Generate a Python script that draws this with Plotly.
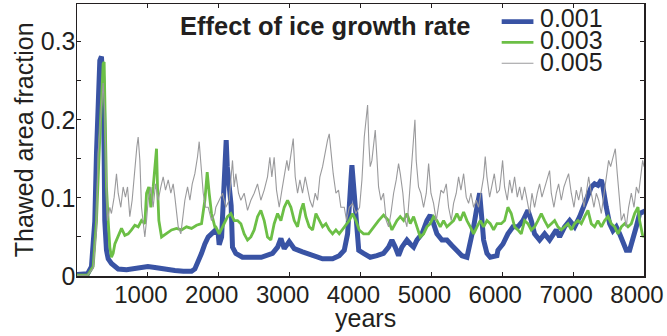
import plotly.graph_objects as go

# ---------------- data ----------------
years_001 = [0, 100, 150, 204, 251, 275, 298, 322, 345, 369, 383, 392, 416, 440, 486, 581, 700, 800, 910, 1000,
             1100, 1200, 1381, 1500, 1616, 1663, 1710, 1757, 1804, 1851, 1898, 1945, 1992, 2006, 2040, 2070, 2090,
             2105, 2120, 2140, 2160, 2175, 2194, 2241, 2335, 2430, 2600, 2759, 2830, 2877, 2924, 2994, 3065, 3182,
             3324, 3465, 3606, 3700, 3771, 3818, 3865, 3879, 3912, 3940, 3959, 3975, 4043, 4137, 4231, 4325, 4396,
             4443, 4490, 4537, 4584, 4655, 4702, 4749, 4796, 4867, 4937, 4984, 5031, 5078, 5149, 5219, 5290, 5360,
             5431, 5502, 5549, 5596, 5643, 5681, 5714, 5737, 5784, 5831, 5925, 5939, 6010, 6080, 6151, 6221, 6292,
             6362, 6409, 6456, 6527, 6598, 6668, 6715, 6762, 6809, 6880, 6951, 7021, 7092, 7139, 7186, 7256, 7303,
             7350, 7398, 7421, 7468, 7515, 7562, 7609, 7656, 7703, 7750, 7797, 7844, 7891, 7938, 7985, 8000]
frac_001 = [0.002, 0.002, 0.003, 0.012, 0.070, 0.157, 0.242, 0.276, 0.281, 0.242, 0.157, 0.071, 0.033, 0.022,
            0.016, 0.009, 0.008, 0.009, 0.011, 0.012, 0.011, 0.009, 0.007, 0.006, 0.006, 0.009, 0.018, 0.029,
            0.041, 0.050, 0.054, 0.058, 0.054, 0.040, 0.050, 0.100, 0.160, 0.174, 0.140, 0.115, 0.105, 0.090,
            0.037, 0.029, 0.024, 0.024, 0.024, 0.029, 0.037, 0.048, 0.035, 0.044, 0.035, 0.031, 0.026, 0.022,
            0.022, 0.026, 0.033, 0.054, 0.123, 0.142, 0.105, 0.063, 0.045, 0.033, 0.029, 0.024, 0.026, 0.029,
            0.037, 0.046, 0.037, 0.026, 0.037, 0.046, 0.041, 0.037, 0.046, 0.054, 0.071, 0.078, 0.067, 0.054,
            0.046, 0.046, 0.039, 0.033, 0.026, 0.024, 0.041, 0.063, 0.088, 0.106, 0.071, 0.046, 0.029, 0.024,
            0.026, 0.033, 0.041, 0.054, 0.063, 0.063, 0.071, 0.084, 0.071, 0.054, 0.046, 0.054, 0.046, 0.054,
            0.059, 0.050, 0.063, 0.071, 0.063, 0.076, 0.088, 0.097, 0.114, 0.118, 0.116, 0.123, 0.114, 0.088,
            0.067, 0.058, 0.063, 0.054, 0.041, 0.033, 0.033, 0.046, 0.063, 0.080, 0.082, 0.080]

years_003 = [0, 150, 228, 275, 322, 369, 383, 402, 416, 440, 463, 486, 510, 534, 581, 628, 675, 722, 769, 816, 863,
             910, 957, 981, 1013, 1042, 1075, 1098, 1122, 1136, 1155, 1193, 1263, 1334, 1404, 1475, 1545, 1616, 1687,
             1757, 1804, 1837, 1865, 1898, 1945, 1959, 2006, 2053, 2124, 2171, 2218, 2265, 2312, 2359, 2406, 2453,
             2500, 2547, 2594, 2641, 2688, 2735, 2782, 2830, 2877, 2924, 2971, 3018, 3065, 3112, 3159, 3192, 3229,
             3276, 3324, 3371, 3418, 3465, 3512, 3559, 3606, 3653, 3700, 3771, 3841, 3888, 3935, 3982, 4043, 4114,
             4184, 4255, 4325, 4396, 4443, 4514, 4561, 4608, 4655, 4702, 4749, 4796, 4843, 4890, 4937, 4984, 5031,
             5078, 5125, 5172, 5219, 5266, 5313, 5360, 5407, 5455, 5502, 5549, 5596, 5643, 5690, 5737, 5784, 5831,
             5878, 5925, 5986, 6033, 6080, 6127, 6174, 6221, 6268, 6315, 6362, 6409, 6456, 6503, 6551, 6598, 6645,
             6692, 6739, 6786, 6833, 6880, 6927, 6974, 7021, 7068, 7115, 7162, 7209, 7256, 7303, 7350, 7398, 7445,
             7492, 7539, 7586, 7633, 7680, 7727, 7774, 7821, 7868, 7915, 7938, 7985, 8000]
frac_003 = [0.001, 0.001, 0.012, 0.071, 0.178, 0.272, 0.274, 0.200, 0.114, 0.071, 0.037, 0.024, 0.029, 0.041,
            0.050, 0.061, 0.052, 0.054, 0.059, 0.065, 0.063, 0.071, 0.067, 0.106, 0.114, 0.088, 0.114, 0.140,
            0.163, 0.114, 0.071, 0.050, 0.054, 0.059, 0.061, 0.059, 0.063, 0.061, 0.065, 0.067, 0.097, 0.133,
            0.106, 0.080, 0.063, 0.063, 0.054, 0.063, 0.076, 0.080, 0.071, 0.071, 0.067, 0.054, 0.046, 0.050,
            0.059, 0.076, 0.084, 0.071, 0.050, 0.046, 0.067, 0.080, 0.071, 0.088, 0.097, 0.088, 0.071, 0.063,
            0.084, 0.093, 0.076, 0.063, 0.059, 0.080, 0.071, 0.063, 0.067, 0.059, 0.054, 0.059, 0.054, 0.063,
            0.071, 0.080, 0.071, 0.059, 0.054, 0.054, 0.063, 0.071, 0.078, 0.071, 0.059, 0.071, 0.076, 0.071,
            0.080, 0.067, 0.076, 0.063, 0.050, 0.054, 0.063, 0.067, 0.076, 0.071, 0.063, 0.071, 0.063, 0.067,
            0.071, 0.080, 0.071, 0.082, 0.071, 0.063, 0.054, 0.063, 0.071, 0.063, 0.071, 0.067, 0.059, 0.067,
            0.067, 0.071, 0.088, 0.080, 0.063, 0.059, 0.054, 0.071, 0.067, 0.059, 0.063, 0.071, 0.080, 0.071,
            0.063, 0.067, 0.071, 0.063, 0.059, 0.063, 0.067, 0.059, 0.067, 0.071, 0.067, 0.076, 0.084, 0.067,
            0.063, 0.071, 0.063, 0.071, 0.076, 0.067, 0.063, 0.054, 0.063, 0.067, 0.063, 0.067, 0.080, 0.088,
            0.071, 0.050, 0.052]

years_005 = [0, 150, 230, 275, 298, 345, 369, 392, 416, 430, 463, 486, 524, 557, 581, 618, 651, 684, 713, 745, 778,
             816, 844, 863, 887, 910, 934, 957, 981, 1004, 1042, 1075, 1108, 1146, 1183, 1216, 1249, 1287, 1324,
             1357, 1381, 1404, 1428, 1465, 1499, 1522, 1560, 1593, 1626, 1663, 1701, 1724, 1748, 1781, 1814, 1851,
             1898, 1945, 1959, 2006, 2053, 2100, 2147, 2194, 2218, 2241, 2279, 2312, 2359, 2406, 2453, 2500, 2547,
             2594, 2641, 2688, 2721, 2749, 2782, 2815, 2853, 2891, 2924, 2961, 2985, 3018, 3051, 3079, 3112, 3145,
             3182, 3220, 3253, 3286, 3324, 3361, 3394, 3427, 3465, 3502, 3535, 3559, 3582, 3615, 3653, 3690, 3723,
             3771, 3803, 3841, 3888, 3935, 3987, 4020, 4053, 4081, 4100, 4118, 4137, 4161, 4184, 4208, 4231, 4255,
             4288, 4325, 4363, 4396, 4429, 4467, 4504, 4537, 4561, 4598, 4631, 4655, 4692, 4725, 4749, 4768, 4786,
             4819, 4852, 4890, 4928, 4961, 4994, 5031, 5069, 5102, 5135, 5172, 5210, 5243, 5281, 5313, 5351, 5384,
             5417, 5455, 5492, 5525, 5558, 5596, 5633, 5666, 5699, 5737, 5760, 5784, 5822, 5855, 5888, 5925, 5960,
             5977, 6005, 6033, 6071, 6104, 6137, 6174, 6212, 6245, 6278, 6315, 6353, 6386, 6419, 6456, 6494, 6527,
             6560, 6598, 6635, 6668, 6692, 6729, 6762, 6795, 6833, 6870, 6904, 6936, 6974, 7012, 7045, 7078, 7115,
             7153, 7186, 7219, 7256, 7294, 7327, 7360, 7398, 7435, 7468, 7501, 7529, 7562, 7595, 7623, 7652, 7680,
             7718, 7750, 7783, 7821, 7859, 7892, 7925, 7953, 7981, 8000]
frac_005 = [0.001, 0.001, 0.010, 0.060, 0.157, 0.221, 0.247, 0.208, 0.123, 0.071, 0.088, 0.080, 0.101, 0.131,
            0.106, 0.088, 0.114, 0.101, 0.114, 0.076, 0.097, 0.140, 0.165, 0.178, 0.148, 0.088, 0.067, 0.050,
            0.071, 0.097, 0.114, 0.088, 0.118, 0.097, 0.114, 0.127, 0.110, 0.123, 0.106, 0.118, 0.101, 0.084,
            0.063, 0.054, 0.076, 0.097, 0.114, 0.097, 0.118, 0.131, 0.153, 0.172, 0.144, 0.106, 0.088, 0.088,
            0.071, 0.080, 0.088, 0.097, 0.106, 0.088, 0.097, 0.148, 0.114, 0.131, 0.106, 0.097, 0.106, 0.084,
            0.097, 0.106, 0.118, 0.097, 0.110, 0.127, 0.152, 0.127, 0.152, 0.110, 0.088, 0.110, 0.127, 0.148,
            0.135, 0.157, 0.176, 0.127, 0.106, 0.123, 0.106, 0.127, 0.110, 0.097, 0.088, 0.106, 0.097, 0.127,
            0.140, 0.161, 0.174, 0.182, 0.157, 0.131, 0.106, 0.110, 0.088, 0.088, 0.071, 0.088, 0.093, 0.080,
            0.088, 0.123, 0.178, 0.200, 0.219, 0.170, 0.140, 0.148, 0.165, 0.187, 0.153, 0.114, 0.097, 0.106,
            0.071, 0.063, 0.080, 0.106, 0.123, 0.144, 0.131, 0.106, 0.071, 0.063, 0.106, 0.148, 0.178, 0.200,
            0.148, 0.114, 0.106, 0.088, 0.106, 0.144, 0.106, 0.093, 0.071, 0.088, 0.110, 0.106, 0.118, 0.088,
            0.071, 0.093, 0.106, 0.127, 0.110, 0.131, 0.101, 0.093, 0.106, 0.088, 0.097, 0.088, 0.106, 0.127,
            0.153, 0.127, 0.101, 0.114, 0.131, 0.106, 0.110, 0.123, 0.148, 0.114, 0.097, 0.123, 0.106, 0.127,
            0.101, 0.114, 0.097, 0.114, 0.097, 0.080, 0.106, 0.088, 0.106, 0.118, 0.101, 0.114, 0.127, 0.135,
            0.106, 0.088, 0.106, 0.118, 0.097, 0.114, 0.123, 0.131, 0.106, 0.088, 0.110, 0.097, 0.114, 0.088,
            0.106, 0.127, 0.106, 0.088, 0.106, 0.097, 0.080, 0.106, 0.127, 0.148, 0.140, 0.153, 0.163, 0.131,
            0.097, 0.071, 0.080, 0.063, 0.088, 0.106, 0.088, 0.114, 0.106, 0.127, 0.148, 0.140]

series_names = ["0.001", "0.003", "0.005"]
x_tick_vals = [1000, 2000, 3000, 4000, 5000, 6000, 7000, 8000]
x_tick_text = ["1000", "2000", "3000", "4000", "5000", "6000", "7000", "8000"]
y_tick_vals = [0, 0.05, 0.1, 0.15, 0.2, 0.25, 0.3]
y_tick_text = ["0", "", "0.1", "", "0.2", "", "0.3"]
title_text = "Effect of ice growth rate"
x_title = "years"
y_title = "Thawed area fraction"

# ---------------- styling ----------------
FONT = "Liberation Sans, Arial, Helvetica, sans-serif"
TXT = "#231f20"
colors = ["#3953a4", "#6cbf46", "#9a9a9c"]
widths = [5.0, 2.8, 1.1]

fig = go.Figure()
for xs, ys, name, c, w in zip([years_001, years_003, years_005],
                              [frac_001, frac_003, frac_005],
                              series_names, colors, widths):
    fig.add_trace(go.Scatter(x=xs, y=ys, mode="lines", name=name,
                             line=dict(color=c, width=w), showlegend=False,
                             hoverinfo="skip"))

# manual legend (compact rows like the reference)
leg_line_y = [0.935, 0.859, 0.782]
leg_text_y = [0.948, 0.868, 0.787]
for name, c, w, ly, ty in zip(series_names, colors, widths, leg_line_y, leg_text_y):
    fig.add_shape(type="line", xref="paper", yref="paper",
                  x0=0.749, x1=0.805, y0=ly, y1=ly,
                  line=dict(color=c, width=min(w, 4.7)))
    fig.add_annotation(xref="paper", yref="paper", x=0.813, y=ty,
                       xanchor="left", yanchor="middle", showarrow=False,
                       text=name, font=dict(family=FONT, size=25, color=TXT))

# chart title
fig.add_annotation(xref="paper", yref="paper", x=0.438, y=0.919,
                   xanchor="center", yanchor="middle", showarrow=False,
                   text="<b>" + title_text + "</b>",
                   font=dict(family=FONT, size=25.5, color=TXT))
# axis titles
fig.add_annotation(xref="paper", yref="paper", x=0.508, y=-0.154,
                   xanchor="center", yanchor="middle", showarrow=False,
                   text=x_title, font=dict(family=FONT, size=25, color=TXT))
fig.add_annotation(xref="paper", yref="paper", x=-0.093, y=0.5,
                   xanchor="center", yanchor="middle", showarrow=False, textangle=-90,
                   text=y_title, font=dict(family=FONT, size=25, color=TXT))

fig.update_layout(
    width=667, height=336,
    margin=dict(l=77, r=23, t=4, b=60, autoexpand=False),
    paper_bgcolor="white", plot_bgcolor="white",
    font=dict(family=FONT, size=24, color=TXT),
    showlegend=False, hovermode=False,
)
fig.update_xaxes(
    range=[0, 8000], tickmode="array", tickvals=x_tick_vals, ticktext=x_tick_text,
    ticks="inside", ticklen=4, tickwidth=1, tickcolor=TXT,
    showline=True, linecolor=TXT, linewidth=1.5, mirror="ticks",
    showgrid=False, zeroline=False, automargin=False,
    ticklabelshift=-7, ticklabelstandoff=-3, ticklabeloverflow="allow",
    tickfont=dict(family=FONT, size=24, color=TXT),
)
fig.update_yaxes(
    range=[0, 0.3483], tickmode="array", tickvals=y_tick_vals, ticktext=y_tick_text,
    ticks="inside", ticklen=4, tickwidth=1, tickcolor=TXT,
    showline=True, linecolor=TXT, linewidth=1.5, mirror="ticks",
    showgrid=False, zeroline=False, automargin=False,
    ticklabelstandoff=-5, ticklabeloverflow="allow",
    tickfont=dict(family=FONT, size=25, color=TXT),
)

fig.write_html("out.html", config={"displayModeBar": False, "staticPlot": True},
               post_script="document.body.style.margin='0px';document.body.style.padding='0px';")
